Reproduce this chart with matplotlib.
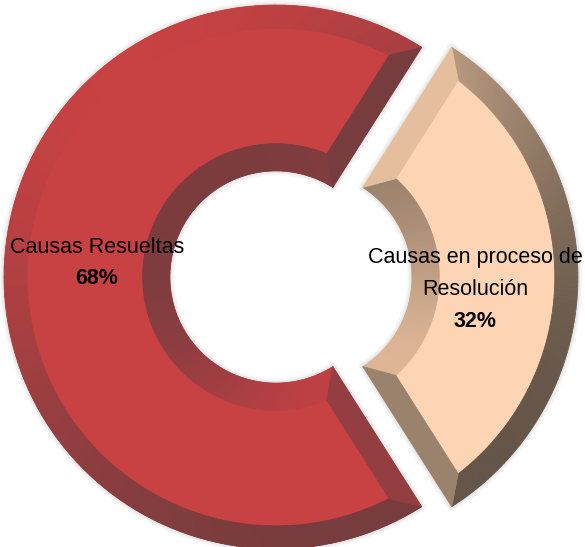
import numpy as np
import matplotlib
matplotlib.use("Agg")
import matplotlib.pyplot as plt
from matplotlib.patches import Polygon, Wedge

labels = ["Causas Resueltas", "Causas en proceso de\nResolución"]
values = [68, 32]
pct_labels = ["68%", "32%"]
base_colors = ["#C84143", "#FDD5B5"]
light_colors = [(200, 65, 67), (236, 196, 162)]
dark_colors = [(118, 60, 62), (100, 85, 72)]
inner_light = [(190, 64, 68), (222, 182, 150)]
inner_dark = [(124, 60, 62), (150, 125, 105)]

W, H, DPI = 585, 547, 100
fig = plt.figure(figsize=(W / DPI, H / DPI), dpi=DPI)
ax = fig.add_axes([0, 0, 1, 1])

R_PX = 272.0
cx_px, cy_px = 276.0, 277.0  # from top-left

ring_w = 0.61
wedges, _ = ax.pie(values, startangle=57.6, explode=[0, 0.11], radius=1.0,
                   colors=base_colors, counterclock=True,
                   wedgeprops=dict(width=ring_w, linewidth=0, zorder=3))

# soft shadow halo
for w in wedges:
    for lw, a in [(7, 0.03), (5, 0.04), (3, 0.06)]:
        ax.add_patch(Wedge(w.center, w.r, w.theta1, w.theta2, width=w.width,
                           facecolor="none", edgecolor=(0.3, 0.3, 0.3, a),
                           lw=lw, zorder=1, joinstyle="round"))

L = np.deg2rad(125)
b_out, b_in, b_side = 0.085, 0.1, 0.085


def shade(lc, dc, normal, g=1.4):
    t = ((1 + np.cos(normal - L)) / 2) ** g
    lc = np.array(lc) / 255
    dc = np.array(dc) / 255
    return tuple(dc + (lc - dc) * t)


def pol(c, rho, th):
    return (c[0] + rho * np.cos(th), c[1] + rho * np.sin(th))


def quad(pts, col):
    ax.add_patch(Polygon(pts, closed=True, facecolor=col, edgecolor=col,
                         lw=0.6, zorder=4))


for i, w in enumerate(wedges):
    c = w.center
    R = w.r
    r = w.r - w.width
    t1, t2 = np.deg2rad(w.theta1), np.deg2rad(w.theta2)
    Ro, ri = R - b_out, r + b_in
    a_o = np.arcsin(b_side / Ro)
    a_i = np.arcsin(b_side / ri)
    t1o, t2o = t1 + a_o, t2 - a_o
    t1i, t2i = t1 + a_i, t2 - a_i
    N = 120
    s = np.linspace(0, 1, N + 1)
    for k in range(N):
        ta, tb = t1 + s[k] * (t2 - t1), t1 + s[k + 1] * (t2 - t1)
        ia, ib = t1o + s[k] * (t2o - t1o), t1o + s[k + 1] * (t2o - t1o)
        quad([pol(c, R, ta), pol(c, R, tb), pol(c, Ro, ib), pol(c, Ro, ia)],
             shade(light_colors[i], dark_colors[i], (ta + tb) / 2))
    for k in range(N):
        ta, tb = t1 + s[k] * (t2 - t1), t1 + s[k + 1] * (t2 - t1)
        ia, ib = t1i + s[k] * (t2i - t1i), t1i + s[k + 1] * (t2i - t1i)
        quad([pol(c, r, ta), pol(c, r, tb), pol(c, ri, ib), pol(c, ri, ia)],
             shade(inner_light[i], inner_dark[i], (ta + tb) / 2 + np.pi, g=2.0))
    quad([pol(c, R, t1), pol(c, r, t1), pol(c, ri, t1i), pol(c, Ro, t1o)],
         shade(light_colors[i], dark_colors[i], t1 - np.pi / 2))
    quad([pol(c, R, t2), pol(c, r, t2), pol(c, ri, t2i), pol(c, Ro, t2o)],
         shade(light_colors[i], dark_colors[i], t2 + np.pi / 2))

ax.set_aspect("auto")
ax.set_xlim(-cx_px / R_PX, (W - cx_px) / R_PX)
ax.set_ylim(-(H - cy_px) / R_PX, cy_px / R_PX)
ax.axis("off")

fam = ["Liberation Sans", "DejaVu Sans"]
fs = 15.5


def px(x, y):
    return ((x - cx_px) / R_PX, (cy_px - y) / R_PX)


kw = dict(ha="center", va="center", fontsize=fs, family=fam, zorder=6)
ax.text(*px(97, 248), labels[0], **kw)
ax.text(*px(97, 279), pct_labels[0], fontweight="bold", **kw)
l1, l2 = labels[1].split("\n")
ax.text(*px(475, 258), l1, **kw)
ax.text(*px(475, 290), l2, **kw)
ax.text(*px(475, 322), pct_labels[1], fontweight="bold", **kw)

fig.savefig("out.png", dpi=DPI)
